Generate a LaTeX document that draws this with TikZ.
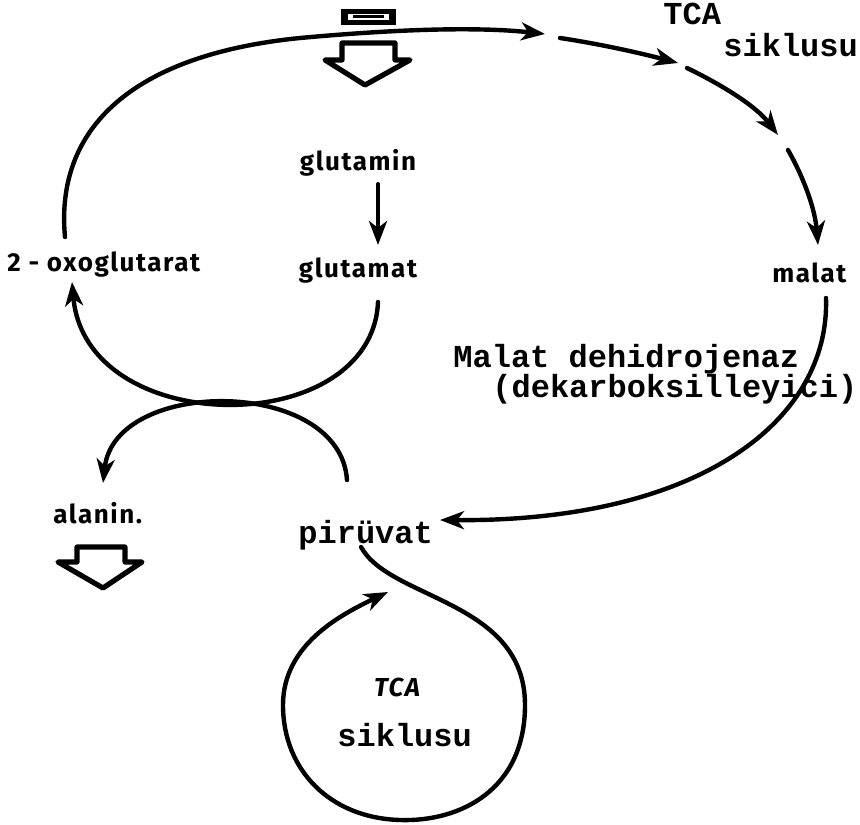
\documentclass[tikz,border=0pt]{standalone}
\usepackage{fontspec}
\setmainfont{Liberation Serif}
\newfontfamily\typer{Liberation Mono}
\newfontfamily\hand{Fira Sans}[LetterSpace=6]
\usetikzlibrary{arrows.meta}

\tikzset{
  flow/.style={line width=2.2pt, line cap=round, -{Stealth[length=12pt,width=9pt,inset=3.5pt]}},
  tw/.style={font=\typer\bfseries\fontsize{16}{18}\selectfont, inner sep=0pt},
  hw/.style={font=\hand\bfseries\fontsize{13}{15}\selectfont, inner sep=0pt},
  blockarrow/.style={line width=2.6pt, fill=white, line join=round},
}

\begin{document}
\begin{tikzpicture}[x=0.5pt,y=-0.5pt]
	\useasboundingbox (0,0) rectangle (860,824);

	% labels
	\node[tw, anchor=base west] (tcatop) at (663,25) {TCA};
	\node[tw, anchor=base west] (siktop) at (723,57) {siklusu};
	\node[hw, anchor=base] (glutamin) at (358,170) {glutamin};
	\node[hw, anchor=base] (glutamat) at (358,277) {glutamat};
	\node[hw, anchor=base west] (oxo) at (7,271) {2 - oxoglutarat};
	\node[hw, anchor=base west] (malat) at (772,282) {malat};
	\node[hw, anchor=base west] (alanin) at (53,523) {alanin.};
	\node[tw, anchor=base west] (piruvat) at (298,543) {pirüvat};
	\node[tw, anchor=base west] (mdh) at (453,367) {Malat dehidrojenaz};
	\node[tw, anchor=base west] (dekarb) at (492,397) {(dekarboksilleyici)};
	\node[hw, font=\hand\bfseries\itshape\fontsize{13}{15}\selectfont] (tcabot) at (397,687) {TCA};
	\node[tw, anchor=base west] (sikbot) at (337,746) {siklusu};

	% end points of the curves
	\coordinate (oxotop) at (65,237);
	\coordinate (oxobot) at (72,282);
	\coordinate (gmtbot) at (378,302);
	\coordinate (pirup) at (347,480);
	\coordinate (alatop) at (103,483);
	\coordinate (maltop) at (818,245);
	\coordinate (malbot) at (826,298);
	\coordinate (pirright) at (440,520);
	\coordinate (pirbot) at (361,547);
	\coordinate (loopend) at (388,592);

	% box and block arrows
	\fill (341,9) rectangle (396,25);
	\fill[white] (348,14) rectangle (389,20);
	\draw[line width=1.5pt] (353,17) -- (384,17);
	\draw[blockarrow] (342,43) -- (395,43) -- (395,60) -- (410,60) -- (365,85) -- (325,60) -- (342,60) -- cycle;
	\draw[blockarrow] (77,547) -- (125,547) -- (125,562) -- (142,562) -- (103,588) -- (58,562) -- (77,562) -- cycle;

	% outer cycle
	\draw[flow] (oxotop) .. controls (55,130) and (130,55) .. (300,38) .. controls (420,27) and (490,28) .. (545,34);
	\draw[flow] (560,38) .. controls (600,44) and (640,53) .. (678,63);
	\draw[flow] (687,68) .. controls (720,84) and (755,105) .. (778,135);
	\draw[flow] (788,150) .. controls (805,180) and (815,210) .. (maltop);
	\draw[flow] (malbot) .. controls (830,420) and (700,522) .. (pirright);

	% glutamin to glutamat
	\draw[flow] (glutamin.south) ++(20,8) coordinate (gmnbot) -- (378,245) coordinate (gmttop);

	% crossing arcs
	\draw[flow] (gmtbot) .. controls (372,440) and (86,440) .. (oxobot);
	\draw[flow] (pirup) .. controls (340,377) and (115,377) .. (alatop);

	% lower cycle
	\draw[flow] (pirbot) .. controls (390,600) and (525,600) .. (525,705)
		.. controls (525,790) and (460,822) .. (400,820)
		.. controls (330,818) and (283,770) .. (283,705)
		.. controls (283,645) and (340,615) .. (loopend);
\end{tikzpicture}
\end{document}
